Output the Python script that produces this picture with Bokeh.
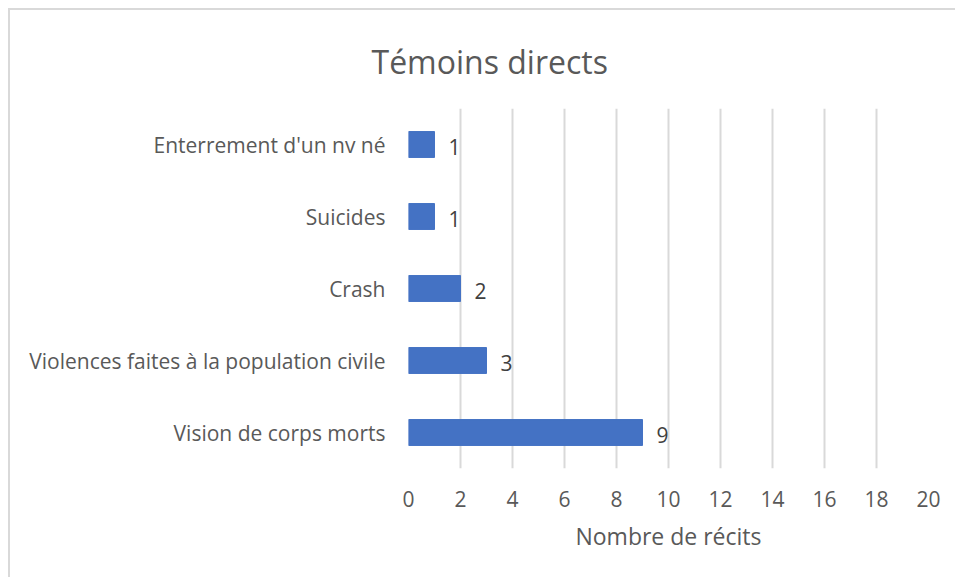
from bokeh.plotting import figure
from bokeh.models import ColumnDataSource, LabelSet, FixedTicker, FactorRange, Range1d
from bokeh.core.properties import value
from bokeh.embed import file_html
from bokeh.resources import INLINE

categories = ["Vision de corps morts",
              "Violences faites à la population civile",
              "Crash",
              "Suicides",
              "Enterrement d'un nv né"]
counts = [9, 3, 2, 1, 1]
x_ticks = [0, 2, 4, 6, 8, 10, 12, 14, 16, 18, 20]
title_text = "Témoins directs"
x_title = "Nombre de récits"

FONT = "Open Sans"
TXT = "#595959"
GRID = "#D9D9D9"
BAR = "#4472C4"

source = ColumnDataSource(dict(cat=categories, val=counts, lab=[str(v) for v in counts]))

p = figure(width=947, height=569,
           y_range=FactorRange(factors=categories, range_padding=0),
           x_range=Range1d(0, 20),
           output_backend="svg", toolbar_location=None,
           min_border_left=398, min_border_right=29,
           min_border_top=98, min_border_bottom=111)
p.margin = (8, 0, 0, 8)
p.styles = {"border-top": "2px solid #D9D9D9", "border-left": "2px solid #D9D9D9"}
p.outline_line_color = None
p.background_fill_color = "white"
p.border_fill_color = "white"

p.title.text = title_text
p.title.align = "left"
p.title.offset = -37
p.title.standoff = 52
p.title.text_font = FONT
p.title.text_font_style = "normal"
p.title.text_font_size = "32px"
p.title.text_color = TXT

p.hbar(y="cat", right="val", left=0, height=0.36, source=source,
       fill_color=BAR, line_color=BAR)

labels = LabelSet(x="val", y="cat", text="lab", source=source,
                  x_offset=14, y_offset=-2, text_align="left", text_baseline="middle",
                  text_font=value(FONT), text_font_size="21px", text_color="#404040")
p.add_layout(labels)

p.xgrid.grid_line_color = GRID
p.xgrid.grid_line_width = 2
p.ygrid.grid_line_color = None

xa = p.xaxis[0]
xa.ticker = FixedTicker(ticks=x_ticks)
xa.axis_line_color = None
xa.major_tick_line_color = None
xa.minor_tick_line_color = None
xa.major_label_text_font = FONT
xa.major_label_text_font_size = "21px"
xa.major_label_text_color = TXT
xa.major_label_standoff = 16
xa.axis_label = x_title
xa.axis_label_text_font = FONT
xa.axis_label_text_font_style = "normal"
xa.axis_label_text_font_size = "23px"
xa.axis_label_text_color = TXT
xa.axis_label_standoff = 10

ya = p.yaxis[0]
ya.axis_line_color = None
ya.major_tick_line_color = None
ya.minor_tick_line_color = None
ya.major_label_text_font = FONT
ya.major_label_text_font_size = "21px"
ya.major_label_text_color = TXT
ya.major_label_standoff = 17

open("out.html", "w").write(file_html(p, INLINE))
